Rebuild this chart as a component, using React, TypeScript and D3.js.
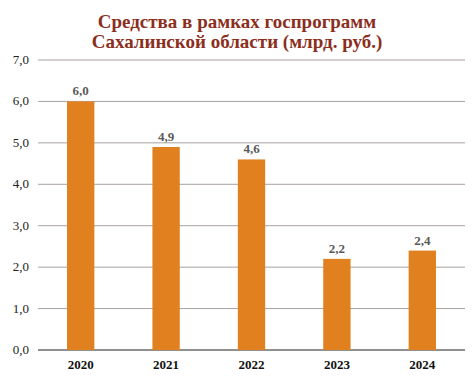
import React from "react";
import * as d3 from "d3";

const categories = ["2020", "2021", "2022", "2023", "2024"];
const values = [6.0, 4.9, 4.6, 2.2, 2.4];
const yTicks = [0, 1, 2, 3, 4, 5, 6, 7];
const titleLines = ["Средства в рамках госпрограмм", "Сахалинской области (млрд. руб.)"];

const W = 476, H = 378;
const left = 38, right = 465, top = 60, bottom = 350;

export default function App() {
  const x = d3.scaleBand().domain(categories).range([left, right]).paddingInner(0.68).paddingOuter(0.34);
  const y = d3.scaleLinear().domain([0, 7]).range([bottom, top]);
  const fmt = (v: number) => v.toFixed(1).replace(".", ",");
  const fs = { fontFamily: "'Liberation Serif', 'Times New Roman', serif" };
  return (
    <svg width={W} height={H} style={{ position: "absolute", left: 0, top: 0 }}>
      <rect width={W} height={H} fill="#fff" />
      {titleLines.map((t, i) => (
        <text key={i} style={fs} x={237} y={28 + i * 20} textAnchor="middle" fontSize={19} fontWeight="bold" fill="#8B2E1C">{t}</text>
      ))}
      {yTicks.map((t) => (
        <g key={t}>
          <line x1={left} x2={right} y1={y(t)} y2={y(t)} stroke={t === 0 ? "#6e6a6a" : "#a8a0a0"} strokeWidth={t === 0 ? 1.5 : 1} />
          <text style={fs} x={29} y={y(t) + 4} textAnchor="end" fontSize={13} fill="#222">{fmt(t)}</text>
        </g>
      ))}
      {categories.map((c, i) => (
        <g key={c}>
          <rect x={x(c)} y={y(values[i])} width={x.bandwidth()} height={y(0) - y(values[i])} fill="#E0801E" />
          <text style={fs} x={(x(c) as number) + x.bandwidth() / 2} y={y(values[i]) - 6} textAnchor="middle" fontSize={13} fontWeight="bold" fill="#595959">{fmt(values[i])}</text>
          <text style={fs} x={(x(c) as number) + x.bandwidth() / 2} y={369} textAnchor="middle" fontSize={13} fontWeight="bold" fill="#111">{c}</text>
        </g>
      ))}
    </svg>
  );
}
